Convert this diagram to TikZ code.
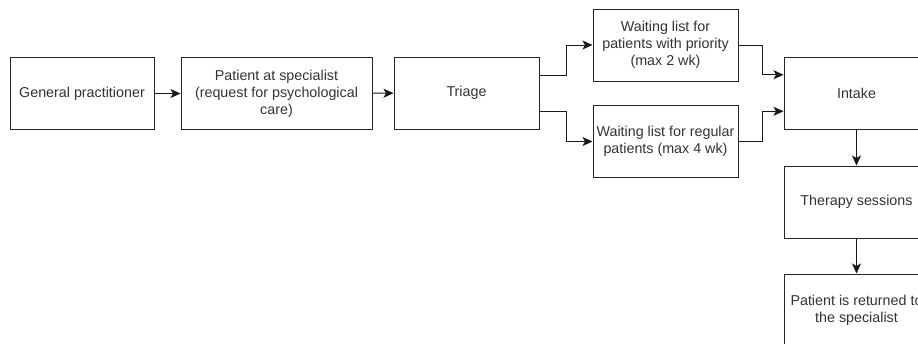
\documentclass[tikz,border=0pt]{standalone}
\usepackage{fontspec}
\setmainfont{Liberation Sans}
\usetikzlibrary{arrows.meta,calc}
\begin{document}
\begin{tikzpicture}[x=1pt,y=-1pt,
  box/.style={draw=black!85,line width=1pt,rectangle,minimum height=72pt,
    align=center,inner sep=2pt,font=\fontsize{14.3}{17.2}\selectfont,text=black!80},
  arr/.style={draw=black!90,line width=1pt,-{Stealth[length=10pt,width=9pt,inset=2.5pt]}}]
\useasboundingbox (0,0) rectangle (918,343);
\clip (0,0) rectangle (918,343);
\fill[white] (0,0) rectangle (918,343);

% main row
\node[box,minimum width=144pt] (gp) at (82,93.5) {General practitioner};
\node[box,minimum width=191pt] (spec) at (276.5,93.5) {Patient at specialist\\(request for psychological\\care)};
\node[box,minimum width=145pt] (triage) at (466.5,93) {Triage};

% waiting lists
\node[box,minimum width=145pt] (prio) at (665.5,45) {Waiting list for\\patients with priority\\(max 2 wk)};
\node[box,minimum width=145pt] (reg) at (665.5,141.5) {Waiting list for regular\\patients (max 4 wk)};

% treatment column
\node[box,minimum width=145pt] (intake) at (856.5,93) {Intake};
\node[box,minimum width=145pt] (therapy) at (856.5,202) {Therapy sessions};
\node[box,minimum width=145pt] (ret) at (856.5,310) {Patient is returned to\\the specialist};

% connectors
\draw[arr] (gp) -- (spec);
\draw[arr] (spec) -- (triage);
\coordinate (tA) at ($(triage.north east)!0.26!(triage.south east)$);
\coordinate (tB) at ($(triage.north east)!0.76!(triage.south east)$);
\draw[arr] (tA) -- ++(27,0) |- (prio.west);
\draw[arr] (tB) -- ++(27,0) |- (reg.west);
\coordinate (iA) at ($(intake.north west)!0.25!(intake.south west)$);
\coordinate (iB) at ($(intake.north west)!0.75!(intake.south west)$);
\draw[arr] (prio.east) -- ++(24,0) |- (iA);
\draw[arr] (reg.east) -- ++(24,0) |- (iB);
\draw[arr] (intake) -- (therapy);
\draw[arr] (therapy) -- (ret);
\end{tikzpicture}
\end{document}
